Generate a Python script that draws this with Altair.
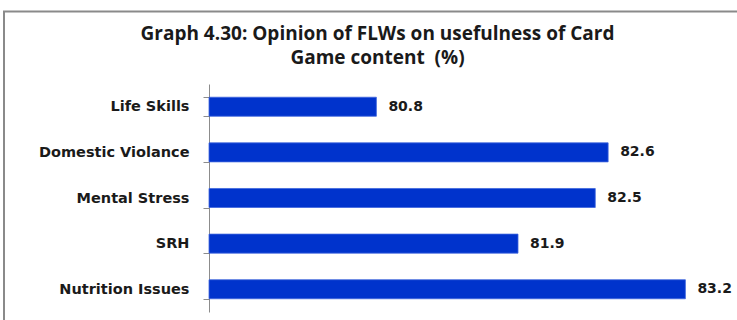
import altair as alt
import pandas as pd

categories = ["Life Skills", "Domestic Violance ", "Mental Stress", "SRH", "Nutrition Issues"]
values = [80.8, 82.6, 82.5, 81.9, 83.2]
axis_min, axis_max = 79.5, 83.5

df = pd.DataFrame({"cat": categories, "val": values})

W, H = 515, 228

y_enc = alt.Y(
    "cat:N",
    sort=categories,
    title=None,
    scale=alt.Scale(paddingInner=0.583, paddingOuter=0.29),
    axis=alt.Axis(
        labelFont="DejaVu Sans",
        labelFontWeight="bold",
        labelFontSize=14.5,
        labelColor="#1a1a1a",
        labelPadding=14,
        tickBand="extent",
        tickSize=6,
        tickColor="#8c8c8c",
        domainColor="#8c8c8c",
        grid=False,
    ),
)
x_enc = alt.X(
    "val:Q",
    axis=None,
    scale=alt.Scale(domain=[axis_min, axis_max], zero=False, nice=False),
)

bars = alt.Chart(df).mark_bar(color="#0033CC", stroke="#3f66dd", strokeWidth=0.8).encode(
    x=x_enc, x2=alt.datum(axis_min), y=y_enc
)
labels = alt.Chart(df).mark_text(
    align="left", baseline="middle", dx=12, font="DejaVu Sans",
    fontWeight="bold", fontSize=14, color="#1a1a1a"
).encode(x=x_enc, y=y_enc, text=alt.Text("val:Q", format=".1f"))

border = alt.Chart(alt.Data(values=[{}])).mark_rect(
    fill="white", fillOpacity=0, stroke="#8a8a8a", strokeWidth=2
).encode(
    x=alt.value(-205), x2=alt.value(560),
    y=alt.value(-72.5), y2=alt.value(260),
)

chart = alt.layer(border, bars, labels).properties(
    width=W,
    height=H,
    padding={"left": 209, "top": 84, "right": 13, "bottom": 8},
    autosize=alt.AutoSizeParams(type="none"),
    background="white",
    title=alt.Title(
        ["Graph 4.30: Opinion of FLWs on usefulness of Card", "Game content \u00a0(%)"],
        font="Open Sans",
        fontSize=19,
        fontWeight="bold",
        color="#1a1a1a",
        anchor="middle",
        dx=-89,
        offset=-57,
        lineHeight=24,
    ),
).configure_view(stroke=None)

chart.save("out.html", embed_options={"renderer": "svg", "actions": False})
